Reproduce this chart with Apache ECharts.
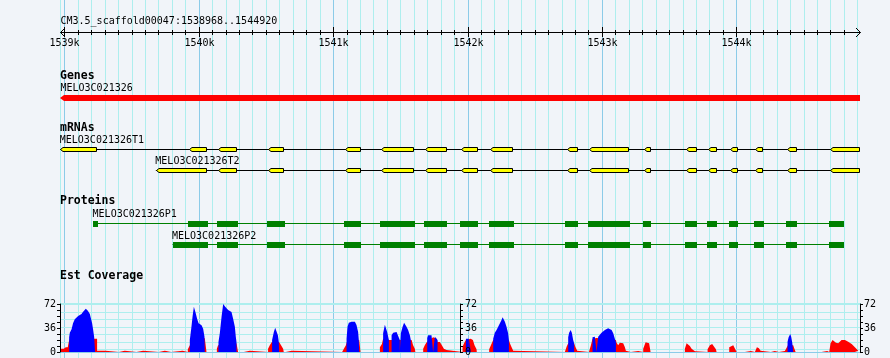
<!DOCTYPE html>
<html><head><meta charset="utf-8">
<script src="https://cdn.jsdelivr.net/npm/echarts@6/dist/echarts.min.js"></script>
<style>html,body{margin:0;padding:0;background:#f1f4f9;}#c{width:890px;height:358px;}</style>
</head><body><div id="c"></div>
<script>
// ---------------- data ----------------
const regionStart = 1538968;
const regionEnd = 1544920;
const regionTitle = 'CM3.5_scaffold00047:1538968..1544920';
const rulerLabelPos = [1539000, 1540000, 1541000, 1542000, 1543000, 1544000];
const rulerLabels = ['1539k', '1540k', '1541k', '1542k', '1543k', '1544k'];
const trackTitles = ['Genes', 'mRNAs', 'Proteins', 'Est Coverage'];

const geneName = 'MELO3C021326';
const geneSpan = [1538970, 1544920];

const t1Name = 'MELO3C021326T1';
const t1Exons = [[1538970,1539244],[1539929,1540063],[1540144,1540286],[1540516,1540636],[1541092,1541204],[1541355,1541603],[1541682,1541844],[1541948,1542075],[1542166,1542340],[1542737,1542819],[1542903,1543203],[1543312,1543362],[1543625,1543704],[1543786,1543853],[1543952,1544009],[1544138,1544200],[1544374,1544448],[1544696,1544920]];
const t2Name = 'MELO3C021326T2';
const t2Exons = [[1539681,1540063],[1540144,1540286],[1540516,1540636],[1541092,1541204],[1541355,1541603],[1541682,1541844],[1541948,1542075],[1542166,1542340],[1542737,1542819],[1542903,1543203],[1543312,1543362],[1543625,1543704],[1543786,1543853],[1543952,1544009],[1544138,1544200],[1544374,1544448],[1544696,1544920]];

const p1Name = 'MELO3C021326P1';
const p1Blocks = [[1539214,1539247],[1539921,1540066],[1540135,1540289],[1540507,1540641],[1541080,1541206],[1541348,1541606],[1541675,1541844],[1541943,1542075],[1542159,1542345],[1542724,1542821],[1542895,1543208],[1543302,1543364],[1543617,1543706],[1543781,1543855],[1543945,1544012],[1544131,1544205],[1544369,1544451],[1544689,1544800]];
const p2Name = 'MELO3C021326P2';
const p2Blocks = [[1539805,1540066],[1540135,1540289],[1540507,1540641],[1541080,1541206],[1541348,1541606],[1541675,1541844],[1541943,1542075],[1542159,1542345],[1542724,1542821],[1542895,1543208],[1543302,1543364],[1543617,1543706],[1543781,1543855],[1543945,1544012],[1544131,1544205],[1544369,1544451],[1544689,1544800]];

const covMax = 72;
const covLabelValues = [0, 36, 72];
const covGridLevels = [72, 60, 49, 38, 27, 15, 4];

const estRed = [
 [1538970,0],[1538970,5],[1538981,6],[1538996,5],[1539011,7],[1539026,7],[1539033,15],[1539041,20],[1539227,20],[1539244,20],[1539244,2],[1539307,2],[1539307,0],
 [1539406,0],[1539406,2],[1539450,2],[1539450,0],
 [1539537,0],[1539537,2],[1539586,2],[1539586,0],
 [1539703,0],[1539703,2],[1539748,2],[1539748,0],
 [1539795,0],[1539795,2],[1539880,2],[1539880,0],
 [1539919,0],[1539919,4],[1539926,6],[1539934,10],[1540045,21],[1540058,21],[1540058,0],
 [1540135,0],[1540135,5],[1540144,10],[1540281,13],[1540293,13],[1540293,0],
 [1540336,0],[1540336,2],[1540380,2],[1540380,0],
 [1540516,0],[1540516,5],[1540529,10],[1540544,15],[1540598,15],[1540604,15],[1540616,9],[1540628,5],[1540633,4],[1540633,0],
 [1540648,0],[1540648,2],[1540691,2],[1540691,0],
 [1541067,0],[1541067,2],[1541080,5],[1541095,10],[1541102,15],[1541194,18],[1541204,18],[1541204,0],
 [1541348,0],[1541348,7],[1541363,12],[1541372,20],[1541415,18],[1541435,18],[1541584,18],[1541595,10],[1541608,5],[1541612,0],
 [1541670,0],[1541670,5],[1541682,10],[1541697,15],[1541707,18],[1541744,22],[1541770,20],[1541777,15],[1541794,15],[1541809,10],[1541824,5],[1541844,3],[1541844,0],
 [1541963,0],[1541963,8],[1541976,14],[1541988,18],[1542023,20],[1542040,18],[1542052,10],[1542067,4],[1542069,0],
 [1542161,0],[1542161,4],[1542174,10],[1542191,18],[1542308,18],[1542315,13],[1542328,7],[1542340,2],[1542340,0],
 [1542724,0],[1542724,2],[1542737,8],[1542749,13],[1542793,13],[1542802,8],[1542816,2],[1542816,0],
 [1542903,0],[1542903,3],[1542918,10],[1542930,20],[1542960,21],[1542972,21],[1543104,18],[1543109,14],[1543121,10],[1543133,14],[1543146,15.5],[1543158,13],[1543171,7],[1543178,2],[1543183,0],
 [1543215,0],[1543215,1.5],[1543270,1.5],[1543270,0],
 [1543307,0],[1543307,5],[1543312,8],[1543325,14.5],[1543337,15.5],[1543351,13],[1543362,10],[1543362,0],
 [1543617,0],[1543617,5],[1543630,13],[1543642,14.5],[1543654,9],[1543667,5],[1543679,3],[1543692,1],[1543692,0],
 [1543786,0],[1543786,4],[1543803,10],[1543820,12],[1543833,9],[1543848,4],[1543853,0],
 [1543947,0],[1543947,7],[1543959,10],[1543977,10],[1543989,9],[1544002,0],
 [1544064,0],[1544064,1.5],[1544108,1.5],[1544108,0],
 [1544138,0],[1544138,3],[1544153,7],[1544168,5.5],[1544180,2],[1544188,0],
 [1544257,0],[1544257,1.5],[1544287,1.5],[1544287,0],
 [1544317,0],[1544317,1.5],[1544361,1.5],[1544361,0],
 [1544374,0],[1544374,4],[1544384,10],[1544423,10],[1544432,5],[1544441,0],
 [1544634,0],[1544634,1.5],[1544676,1.5],[1544676,0],
 [1544691,0],[1544691,3],[1544701,13],[1544716,18],[1544728,19],[1544741,14],[1544750,15.5],[1544758,13],[1544770,15.5],[1544783,18],[1544795,19],[1544808,18],[1544820,19],[1544832,15.5],[1544845,13],[1544858,12],[1544869,9],[1544882,7],[1544895,4],[1544907,2],[1544914,0]
];

const estBlue = [
 [1539036,0],[1539036,22],[1539041,29],[1539054,34],[1539065,43],[1539078,49],[1539091,52],[1539103,54],[1539115,54.5],[1539128,57],[1539140,60.5],[1539153,63],[1539160,65],[1539165,63],[1539170,66],[1539175,62],[1539182,60],[1539190,57],[1539195,53],[1539207,43],[1539214,34],[1539222,23],[1539229,20],[1539229,0],
 [1539934,0],[1539934,18],[1539946,38],[1539954,53],[1539964,68],[1539971,69],[1539978,58],[1539988,50],[1539999,43],[1540008,41.5],[1540021,40],[1540033,35],[1540043,23],[1540045,21],[1540045,0],
 [1540147,0],[1540147,15],[1540157,28],[1540170,53],[1540182,72],[1540189,72],[1540197,68],[1540207,70],[1540219,63],[1540232,64],[1540244,60],[1540256,50],[1540269,38],[1540276,23],[1540281,15],[1540281,0],
 [1540546,0],[1540546,18],[1540559,30],[1540569,36.5],[1540579,34],[1540589,25],[1540596,15],[1540598,0],
 [1541100,0],[1541100,20],[1541107,38],[1541117,44],[1541137,45.5],[1541149,48],[1541162,45.5],[1541174,40.5],[1541186,30],[1541191,18],[1541194,0],
 [1541372,0],[1541372,28],[1541385,41],[1541392,39],[1541402,30],[1541415,18],[1541415,0],
 [1541435,0],[1541435,25],[1541447,29],[1541459,28],[1541472,30],[1541484,29],[1541496,18],[1541496,0],
 [1541504,0],[1541504,28],[1541517,38],[1541528,44],[1541536,42],[1541546,38],[1541558,33],[1541571,25],[1541578,18],[1541578,0],
 [1541700,0],[1541700,21],[1541707,25],[1541720,24],[1541732,25],[1541744,25],[1541744,0],
 [1541757,0],[1541757,23],[1541770,21],[1541777,18],[1541777,0],
 [1541988,0],[1541988,20],[1542000,21],[1542010,20],[1542010,0],
 [1542015,0],[1542015,18],[1542023,18],[1542023,0],
 [1542191,0],[1542191,20],[1542203,29],[1542216,33],[1542228,38],[1542241,43],[1542253,48],[1542261,52],[1542268,50.5],[1542278,45.5],[1542290,38],[1542302,28],[1542308,18],[1542308,0],
 [1542749,0],[1542749,22],[1542756,29],[1542767,33],[1542776,29],[1542786,18],[1542793,13],[1542793,0],
 [1542930,0],[1542930,22],[1542947,23],[1542960,23],[1542960,0],
 [1542972,0],[1542972,23],[1542997,29],[1543009,30],[1543022,33],[1543035,32],[1543046,35.5],[1543059,34],[1543072,33],[1543084,28],[1543096,20],[1543104,15],[1543104,0],
 [1544381,0],[1544381,15.5],[1544389,22],[1544401,27],[1544408,23],[1544416,14],[1544423,0]
];

// ---------------- style ----------------
const FONT = '10px "DejaVu Sans Mono"';
const BOLD = 'bold 11.5px "DejaVu Sans Mono"';
const C_MINOR = '#aeeeee';
const C_MAJOR = '#8ccbe8';
const GRID_LEFT = 60, GRID_W = 800;

// 100-bp tick positions (scale ticks)
const tickPos = [];
for (let p = Math.ceil(regionStart / 100) * 100; p <= regionEnd; p += 100) tickPos.push(p);

function X(api, bp) { return api.coord([bp, 0])[0]; }
function col(x) { return Math.round(x) + 0.5; }

function textEl(x, y, text, font, align) {
  return { type: 'text', x: x, y: y, style: { text: text, font: font, fill: '#000', align: align || 'left', verticalAlign: 'middle' } };
}

function custom(data, renderItem, z, gridIdx) {
  return { type: 'custom', coordinateSystem: 'cartesian2d', xAxisIndex: gridIdx || 0, yAxisIndex: gridIdx || 0,
    data: data, renderItem: renderItem, z: z, silent: true, animation: false, clip: false };
}

function transcriptSeries(name, exons, yc, labelY) {
  const first = exons[0][0], last = exons[exons.length - 1][1];
  return [
    custom([[first, last]], (p, api) => ({
      type: 'group', children: [
        { type: 'line', shape: { x1: X(api, api.value(0)), y1: yc + 0.5, x2: X(api, api.value(1)), y2: yc + 0.5 }, style: { stroke: '#000', lineWidth: 1 } },
        textEl(X(api, api.value(0)) - 0.5, labelY, name, FONT)
      ] }), 5),
    custom(exons, (p, api) => {
      const x0 = Math.round(X(api, api.value(0))) + 0.5, x1 = Math.round(X(api, api.value(1))) - 0.5;
      const t = Math.min(2.5, (x1 - x0) / 2);
      const y0 = yc - 1.5, y1 = yc + 2.5, ym = yc + 0.5;
      return { type: 'polygon', shape: { points: [[x0, ym], [x0 + t, y0], [x1, y0], [x1, y1], [x0 + t, y1]] },
        style: { fill: '#ffff00', stroke: '#000', lineWidth: 1 } };
    }, 6)
  ];
}

function proteinSeries(name, blocks, yc, labelY) {
  const first = blocks[0][0], last = blocks[blocks.length - 1][1];
  return [
    custom([[first, last]], (p, api) => ({
      type: 'group', children: [
        { type: 'line', shape: { x1: X(api, api.value(0)), y1: yc + 0.5, x2: X(api, api.value(1)), y2: yc + 0.5 }, style: { stroke: '#008000', lineWidth: 1 } },
        textEl(X(api, api.value(0)) - 0.5, labelY, name, FONT)
      ] }), 5),
    custom(blocks, (p, api) => {
      const x0 = Math.round(X(api, api.value(0))), x1 = Math.round(X(api, api.value(1)));
      return { type: 'rect', shape: { x: x0, y: yc - 2, width: Math.max(1, x1 - x0), height: 6 }, style: { fill: '#008000' } };
    }, 6)
  ];
}

function covAxis(extra) {
  return Object.assign({
    gridIndex: 1, type: 'value', min: 0, max: covMax, interval: 9, z: 8,
    axisLine: { show: true, lineStyle: { color: '#000', width: 1 } },
    axisTick: { show: true, length: 3, lineStyle: { color: '#000' } },
    axisLabel: { formatter: v => covLabelValues.indexOf(v) >= 0 ? String(v) : '', fontFamily: 'DejaVu Sans Mono', fontSize: 10, color: '#000', margin: 4 },
    splitLine: { show: false }
  }, extra);
}

const series = [];

// vertical background grid
series.push(custom(tickPos.map(p => [p]), (p, api) => {
  const v = api.value(0);
  const x = col(X(api, v));
  return { type: 'line', shape: { x1: x, y1: 0, x2: x, y2: 358 }, style: { stroke: v % 1000 === 0 ? C_MAJOR : C_MINOR, lineWidth: 1 } };
}, 1));
series.push(custom([[regionStart]], (p, api) => {
  const x = col(X(api, api.value(0)));
  return { type: 'line', shape: { x1: x, y1: 0, x2: x, y2: 358 }, style: { stroke: C_MINOR, lineWidth: 1 } };
}, 1));

// ruler line, arrows, title
series.push(custom([[regionStart, regionEnd]], (p, api) => {
  const xa = X(api, api.value(0)) + 0.5, xb = X(api, api.value(1)) + 0.5;
  return { type: 'group', children: [
    { type: 'line', shape: { x1: xa, y1: 32.5, x2: xb, y2: 32.5 }, style: { stroke: '#000', lineWidth: 1 } },
    { type: 'polyline', shape: { points: [[xa + 4, 28.5], [xa, 32.5], [xa + 4, 36.5]] }, style: { stroke: '#000', lineWidth: 1, fill: null } },
    { type: 'polyline', shape: { points: [[xb - 4.5, 28], [xb, 32.5], [xb - 4.5, 37]] }, style: { stroke: '#000', lineWidth: 1, fill: null } },
    textEl(xa, 21, regionTitle, FONT)
  ] };
}, 7));
// ruler ticks
series.push(custom(tickPos.filter(v => v < regionEnd - 40).map(v => [v]), (p, api) => {
  const v = api.value(0);
  const x = col(X(api, v));
  const major = v % 1000 === 0;
  return { type: 'line', shape: { x1: x, y1: major ? 27 : 30, x2: x, y2: major ? 37 : 35 }, style: { stroke: '#000', lineWidth: 1 } };
}, 7));
// ruler labels
series.push(custom(rulerLabelPos.map((v, i) => [v, i]), (p, api) => {
  return textEl(Math.round(X(api, api.value(0))) + 0.5, 43.5, rulerLabels[api.value(1)], FONT, 'center');
}, 7));

// gene
series.push(custom([geneSpan], (p, api) => {
  const x0 = Math.round(X(api, api.value(0))), x1 = Math.round(X(api, api.value(1)));
  return { type: 'group', children: [
    { type: 'polygon', shape: { points: [[x0, 98], [x0 + 4, 95], [x1, 95], [x1, 101], [x0 + 4, 101]] }, style: { fill: '#ff0000' } },
    textEl(x0 + 0.5, 88.5, geneName, FONT)
  ] };
}, 6));

series.push(...transcriptSeries(t1Name, t1Exons, 149, 140.5));
series.push(...transcriptSeries(t2Name, t2Exons, 170, 161.5));
series.push(...proteinSeries(p1Name, p1Blocks, 223, 214.5));
series.push(...proteinSeries(p2Name, p2Blocks, 244, 236));

// coverage horizontal grid
series.push(custom(covGridLevels.map(v => [regionStart, v]), (p, api) => {
  const lvl = api.value(1);
  const y = api.coord([regionStart, lvl])[1];
  const xa = api.coord([regionStart, 0])[0], xb = api.coord([regionEnd, 0])[0] + 1;
  const w = lvl === covMax ? 2 : 1;
  const yy = lvl === covMax ? y : Math.round(y) + 0.5;
  return { type: 'line', shape: { x1: xa, y1: yy, x2: xb, y2: yy }, style: { stroke: C_MINOR, lineWidth: w } };
}, 2, 1));
series.push(custom([[regionStart, 0]], (p, api) => {
  const y = Math.round(api.coord([regionStart, 0])[1]) + 0.5;
  return { type: 'line', shape: { x1: api.coord([regionStart, 0])[0], y1: y, x2: api.coord([regionEnd, 0])[0] + 1, y2: y }, style: { stroke: C_MAJOR, lineWidth: 1 } };
}, 2, 1));

// coverage histograms
series.push({ type: 'line', xAxisIndex: 1, yAxisIndex: 1, data: estRed, showSymbol: false, silent: true, animation: false, z: 3,
  lineStyle: { width: 0, color: '#ff0000' }, areaStyle: { color: '#ff0000', opacity: 1 } });
series.push({ type: 'line', xAxisIndex: 1, yAxisIndex: 1, data: estBlue, showSymbol: false, silent: true, animation: false, z: 4,
  lineStyle: { width: 0, color: '#0000ff' }, areaStyle: { color: '#0000ff', opacity: 1 } });

const option = {
  animation: false,
  backgroundColor: '#f1f4f9',
  grid: [
    { left: GRID_LEFT, top: 0, width: GRID_W, height: 358, outerBoundsMode: 'none' },
    { left: GRID_LEFT, top: 304, width: GRID_W, height: 48, outerBoundsMode: 'none' }
  ],
  xAxis: [
    { gridIndex: 0, type: 'value', min: regionStart, max: regionEnd, show: false },
    { gridIndex: 1, type: 'value', min: regionStart, max: regionEnd, show: false }
  ],
  yAxis: [
    { gridIndex: 0, type: 'value', min: 0, max: 358, inverse: true, show: false },
    covAxis({ position: 'left' }),
    covAxis({ position: 'right' }),
    covAxis({ position: 'left', offset: -400, axisTick: { show: true, inside: true, length: 3, lineStyle: { color: '#000' } },
      axisLabel: { inside: true, formatter: v => covLabelValues.indexOf(v) >= 0 ? String(v) : '', fontFamily: 'DejaVu Sans Mono', fontSize: 10, color: '#000', margin: 5 } })
  ],
  graphic: trackTitles.map((t, i) => ({ type: 'text', x: GRID_LEFT, y: [76, 128, 201.5, 276][i],
    style: { text: t, font: BOLD, fill: '#000', verticalAlign: 'middle' }, z: 10 })),
  series: series
};

const chart = echarts.init(document.getElementById('c'), null, { renderer: 'canvas', width: 890, height: 358 });
chart.setOption(option);
</script>
</body></html>
